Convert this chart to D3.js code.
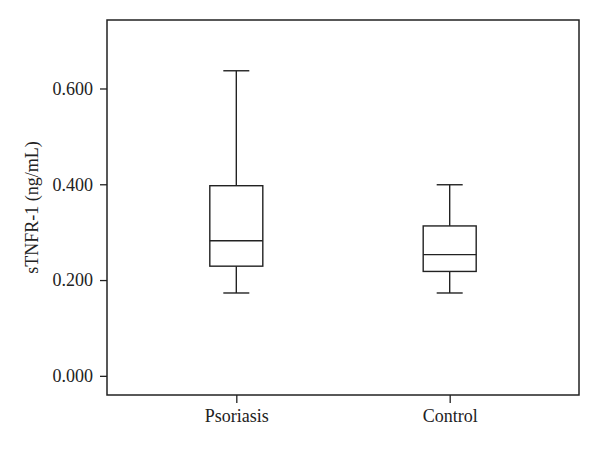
<!DOCTYPE html>
<html>
<head>
<meta charset="utf-8">
<script src="https://cdn.jsdelivr.net/npm/d3@7"></script>
<style>
  body { margin: 0; background: #fff; }
  svg { display: block; }
  text { font-family: "Liberation Serif", "DejaVu Serif", serif; fill: #222; }
</style>
</head>
<body>
<div id="chart"></div>
<script>
// box plot values
const groups = ["Psoriasis", "Control"];
const mins = [0.173, 0.173];
const q1s = [0.229, 0.218];
const medians = [0.282, 0.253];
const q3s = [0.397, 0.313];
const maxs = [0.637, 0.399];
const yTicks = [0, 0.2, 0.4, 0.6];

const width = 600, height = 451;
const margin = { top: 20, right: 21, bottom: 56, left: 107 };

const svg = d3.select("#chart").append("svg")
    .attr("width", width)
    .attr("height", height);

const x = d3.scalePoint()
    .domain(groups)
    .range([margin.left, width - margin.right])
    .padding(0.606);

const y = d3.scaleLinear()
    .domain([-0.04, 0.743])
    .range([height - margin.bottom, margin.top]);

const ink = "#222";

// axes
svg.append("g")
    .attr("transform", `translate(${margin.left},0)`)
    .call(d3.axisLeft(y).tickValues(yTicks).tickFormat(d3.format(".3f")).tickSize(7).tickPadding(7))
    .call(g => g.select(".domain").remove())
    .call(g => g.selectAll("line").attr("stroke", ink).attr("stroke-width", 1.3))
    .call(g => g.selectAll("text").attr("font-size", 18).attr("fill", ink));

svg.append("g")
    .attr("transform", `translate(0,${height - margin.bottom})`)
    .call(d3.axisBottom(x).tickSize(8).tickPadding(6))
    .call(g => g.select(".domain").remove())
    .call(g => g.selectAll("line").attr("stroke", ink).attr("stroke-width", 1.3))
    .call(g => g.selectAll("text").attr("font-size", 18).attr("fill", ink));

// frame
svg.append("rect")
    .attr("x", margin.left)
    .attr("y", margin.top)
    .attr("width", width - margin.left - margin.right)
    .attr("height", height - margin.top - margin.bottom)
    .attr("fill", "none")
    .attr("stroke", ink)
    .attr("stroke-width", 1.5);

// y label
svg.append("text")
    .attr("transform", `translate(38,${(margin.top + height - margin.bottom) / 2}) rotate(-90)`)
    .attr("text-anchor", "middle")
    .attr("font-size", 18)
    .text("sTNFR-1 (ng/mL)");

// boxes
const boxW = 53, capW = 26;
const data = groups.map((g, i) => ({ g, min: mins[i], q1: q1s[i], med: medians[i], q3: q3s[i], max: maxs[i] }));

const box = svg.append("g")
    .attr("stroke", ink)
    .attr("stroke-width", 1.4)
    .attr("fill", "none")
  .selectAll("g")
  .data(data)
  .join("g");

box.append("line")
    .attr("x1", d => x(d.g)).attr("x2", d => x(d.g))
    .attr("y1", d => y(d.max)).attr("y2", d => y(d.q3));
box.append("line")
    .attr("x1", d => x(d.g)).attr("x2", d => x(d.g))
    .attr("y1", d => y(d.q1)).attr("y2", d => y(d.min));
box.append("line")
    .attr("x1", d => x(d.g) - capW / 2).attr("x2", d => x(d.g) + capW / 2)
    .attr("y1", d => y(d.max)).attr("y2", d => y(d.max));
box.append("line")
    .attr("x1", d => x(d.g) - capW / 2).attr("x2", d => x(d.g) + capW / 2)
    .attr("y1", d => y(d.min)).attr("y2", d => y(d.min));
box.append("rect")
    .attr("x", d => x(d.g) - boxW / 2)
    .attr("width", boxW)
    .attr("y", d => y(d.q3))
    .attr("height", d => y(d.q1) - y(d.q3))
    .attr("fill", "#fff");
box.append("line")
    .attr("x1", d => x(d.g) - boxW / 2).attr("x2", d => x(d.g) + boxW / 2)
    .attr("y1", d => y(d.med)).attr("y2", d => y(d.med));
</script>
</body>
</html>
